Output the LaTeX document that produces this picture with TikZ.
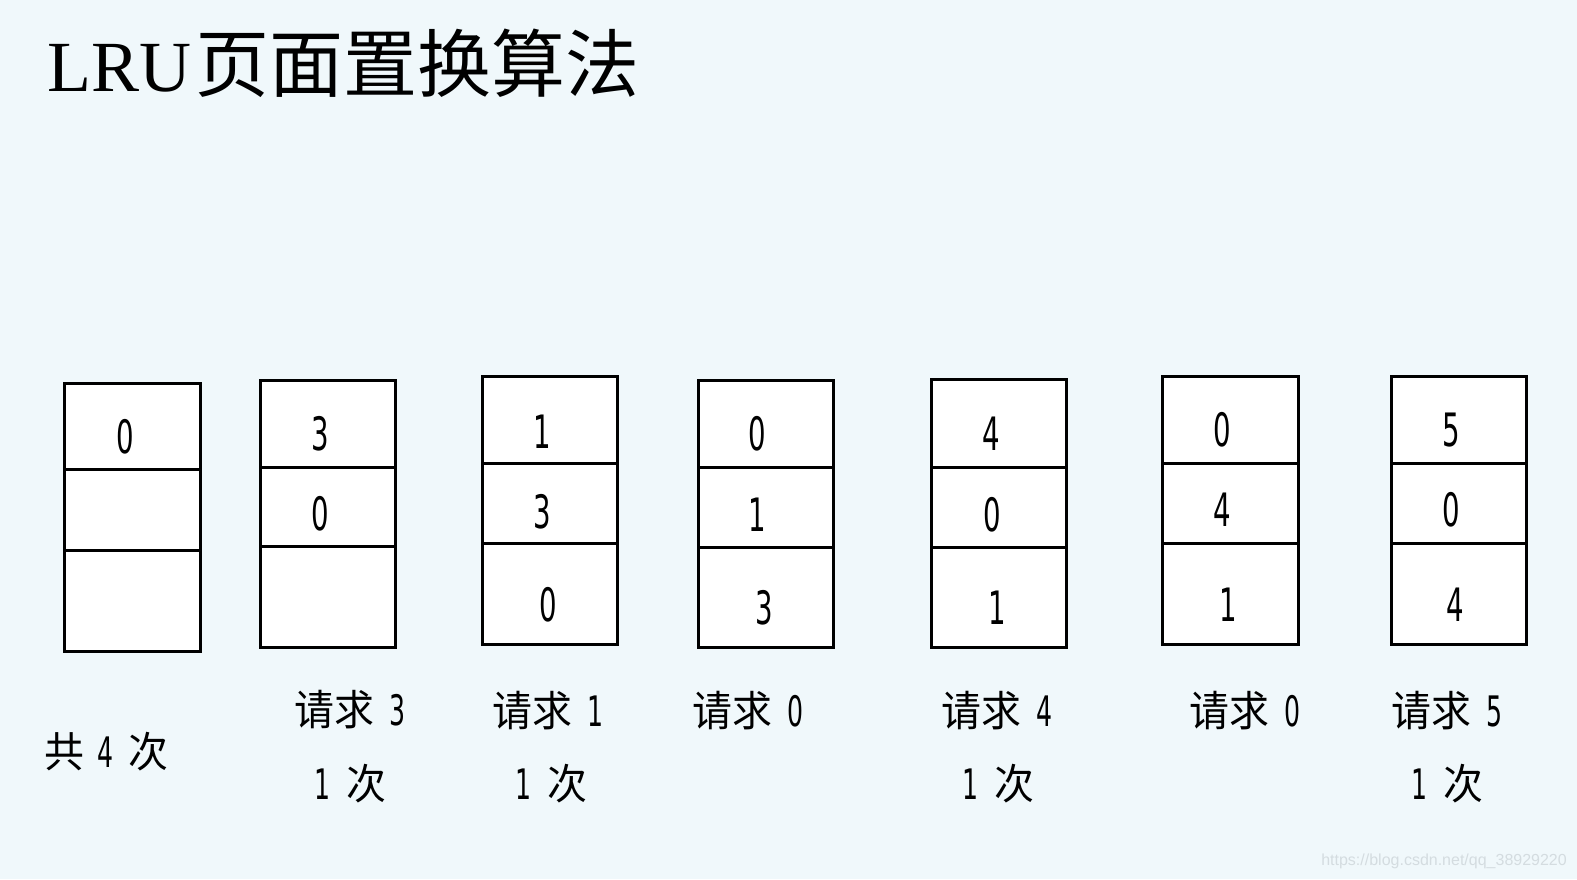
\documentclass[tikz,border=0pt]{standalone}
\usepackage{fontspec}
\usepackage{graphicx}
\setmainfont{Liberation Serif}
\newfontfamily\cjk{Noto Sans CJK SC}
\newfontfamily\digfont{DejaVu Sans}
\newfontfamily\wmfont{Liberation Sans}
\definecolor{bg}{RGB}{240,248,251}
\definecolor{wmgray}{RGB}{212,220,224}
\newcommand\celld[1]{\scalebox{0.6}[1]{\fontsize{46}{46}\selectfont\digfont #1}}
\newcommand\labd[1]{\scalebox{0.6}[1]{\fontsize{42}{42}\selectfont\digfont #1}}
\newcommand\labc[1]{\scalebox{0.95}[1]{\fontsize{42}{42}\selectfont\cjk #1}}
\newcommand\memcol[7]{%
  \draw[colbox] (#2,#3) rectangle (#7,#6);
  \draw[colbox] (#2,#4) -- (#7,#4);
  \draw[colbox] (#2,#5) -- (#7,#5);
  \coordinate (#1) at (#2,#3);
}
\begin{document}
\begin{tikzpicture}[x=1pt,y=-1pt,
  colbox/.style={draw=black, fill=white, line width=3pt},
  num/.style={inner sep=0pt, anchor=center},
  lab/.style={inner sep=0pt, anchor=center}]
\fill[bg] (0,0) rectangle (1577,879);
\useasboundingbox (0,0) rectangle (1577,879);

% title
\node[anchor=base west, inner sep=0pt] (title) at (47,91)
  {\fontsize{72}{72}\selectfont LRU\hspace{4pt}{\fontsize{74}{74}\selectfont\cjk 页面置换算法}};

% memory columns
\memcol{c1}{64}{383}{469}{550}{651}{200}
\memcol{c2}{260}{380}{467}{546}{647}{395}
\memcol{c3}{482}{376}{463}{543}{644}{617}
\memcol{c4}{698}{380}{467}{547}{647}{833}
\memcol{c5}{931}{379}{467}{547}{647}{1066}
\memcol{c6}{1162}{376}{463}{543}{644}{1298}
\memcol{c7}{1391}{376}{463}{543}{644}{1526}

% numbers
\node[num] (n1a) at (125,437) {\celld{0}};
\node[num] (n2a) at (320,434) {\celld{3}};
\node[num] (n2b) at (320,514) {\celld{0}};
\node[num] (n3a) at (542,432) {\celld{1}};
\node[num] (n3b) at (542,512) {\celld{3}};
\node[num] (n3c) at (548,605) {\celld{0}};
\node[num] (n4a) at (757,434) {\celld{0}};
\node[num] (n4b) at (757,515) {\celld{1}};
\node[num] (n4c) at (764,608) {\celld{3}};
\node[num] (n5a) at (991,434) {\celld{4}};
\node[num] (n5b) at (992,515) {\celld{0}};
\node[num] (n5c) at (997,608) {\celld{1}};
\node[num] (n6a) at (1222,430) {\celld{0}};
\node[num] (n6b) at (1222,510) {\celld{4}};
\node[num] (n6c) at (1228,605) {\celld{1}};
\node[num] (n7a) at (1451,430) {\celld{5}};
\node[num] (n7b) at (1451,510) {\celld{0}};
\node[num] (n7c) at (1455,605) {\celld{4}};

% labels
\node[lab] (t1) at (106,752) {\labc{共}\hspace{14pt}\labd{4}\hspace{14pt}\labc{次}};
\node[lab] (r2) at (350,710) {\labc{请求}\hspace{15pt}\labd{3}};
\node[lab] (k2) at (350,784) {\labd{1}\hspace{16pt}\labc{次}};
\node[lab] (r3) at (548,711) {\labc{请求}\hspace{15pt}\labd{1}};
\node[lab] (k3) at (551,784) {\labd{1}\hspace{16pt}\labc{次}};
\node[lab] (r4) at (748,711) {\labc{请求}\hspace{15pt}\labd{0}};
\node[lab] (r5) at (997,711) {\labc{请求}\hspace{15pt}\labd{4}};
\node[lab] (k5) at (998,784) {\labd{1}\hspace{16pt}\labc{次}};
\node[lab] (r6) at (1245,711) {\labc{请求}\hspace{15pt}\labd{0}};
\node[lab] (r7) at (1447,711) {\labc{请求}\hspace{15pt}\labd{5}};
\node[lab] (k7) at (1447,784) {\labd{1}\hspace{16pt}\labc{次}};

% watermark
\node[anchor=east, inner sep=0pt, text=wmgray] (wm) at (1567,861)
  {\fontsize{16}{16}\selectfont\wmfont https://blog.csdn.net/qq\_38929220};
\end{tikzpicture}
\end{document}
